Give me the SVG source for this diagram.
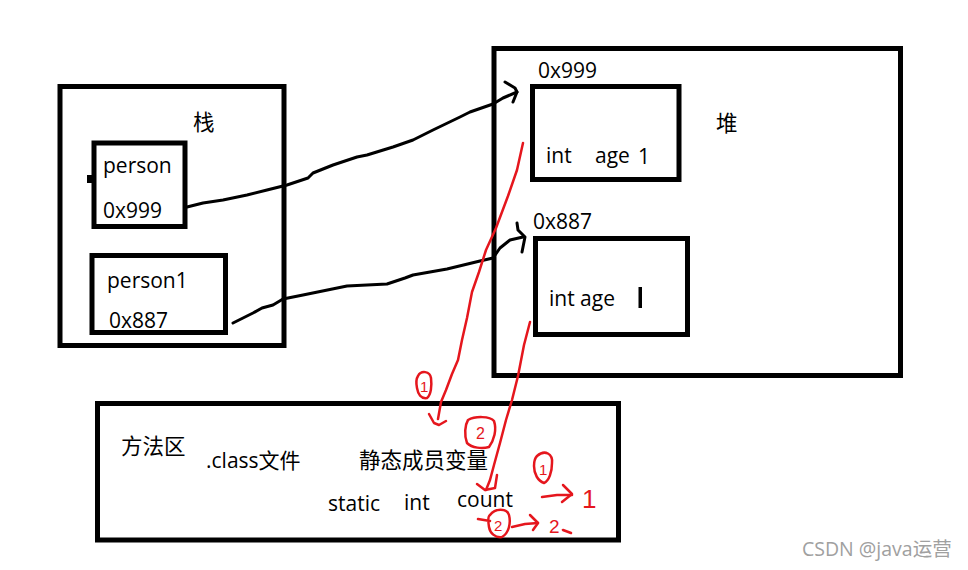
<svg xmlns="http://www.w3.org/2000/svg" width="968" height="570" viewBox="0 0 968 570">
<style>
.box{fill:none;stroke:#000;stroke-width:5}
.t{font-family:"Open Sans","Noto Sans CJK SC",sans-serif;font-size:21px;fill:#000}
.cj{font-family:"Noto Sans CJK SC",sans-serif;font-size:21.5px;fill:#000}
.ink{fill:none;stroke:#000;stroke-width:3;stroke-linejoin:round;stroke-linecap:round}
.red{fill:none;stroke:#e5161d;stroke-width:2.5;stroke-linejoin:round;stroke-linecap:round}
.rt{font-family:"Liberation Sans",sans-serif;fill:#e5161d}
.wm{font-family:"Open Sans","Noto Sans CJK SC",sans-serif;font-size:19.5px;fill:#a0a0a0}
</style>
<rect width="968" height="570" fill="#fff"/>

<g id="stack">
<rect class="box" x="60" y="86.5" width="224" height="259"/>
<text class="cj" x="193" y="130">栈</text>
</g>
<g id="person">
<rect class="box" x="94" y="143" width="91" height="83.5"/>
<rect x="87" y="175" width="5" height="8" fill="#000"/>
<text class="t" x="103" y="173">person</text>
<text class="t" x="103" y="218">0x999</text>
</g>
<g id="person1">
<rect class="box" x="92" y="255.5" width="133.5" height="77"/>
<text class="t" x="107" y="288">person1</text>
<text class="t" x="109" y="328">0x887</text>
</g>

<g id="heap">
<rect class="box" x="494" y="48.5" width="406.5" height="327"/>
<text class="cj" x="716" y="131">堆</text>
</g>
<g id="obj1">
<text class="t" x="538" y="78">0x999</text>
<rect class="box" x="532.5" y="86.5" width="146.5" height="93"/>
<text class="t" x="546" y="163">int</text>
<text class="t" x="595" y="163">age</text>
<text class="t" x="638" y="164">1</text>
</g>
<g id="obj2">
<text class="t" x="533" y="229">0x887</text>
<rect class="box" x="535.5" y="238.5" width="152" height="96"/>
<text class="t" x="549" y="306">int age</text>
<rect x="638.5" y="287" width="3.5" height="21" fill="#000"/>
</g>

<g id="method-area">
<rect class="box" x="97.5" y="403.5" width="521" height="136.5"/>
<text class="cj" x="121" y="454">方法区</text>
<text class="t" x="206" y="468">.class文件</text>
<text class="cj" x="359" y="468">静态成员变量</text>
<text class="t" x="328" y="511">static</text>
<text class="t" x="404" y="510">int</text>
<text class="t" x="457" y="507">count</text>
</g>

<g id="connectors">
<polyline class="ink" points="187,207 203,203 223,200 247,195 267,190 287,185 308,178 313,173 333,165 357,157 367,155 393,147 413,140 433,130 460,117 470,112 493,104 503,98 517,92"/>
<polyline class="ink" points="505,82 515,88 517,92 513,102"/>
<polyline class="ink" points="233,323 243,318 253,313 262,308 273,305 283,299 303,295 347,286 387,284 405,278 413,275 447,269 480,261 493,258 500,248 510,240 523,237"/>
<polyline class="ink" points="517,223 518,230 525,237 522,252"/>

<polyline class="red" points="523,143 517,170 508,196 496,228 486,250 479,272 472,292 467,318 462,340 458,360 452,374 446,390 441,402 438,419"/>
<polyline class="red" points="429,414 434,423 439,425 446,421"/>
<polyline class="red" points="530,322 524,345 518,376 512,400 506,420 500,443 494,465 490,480 486,490"/>
<polyline class="red" points="477,484 485,490 495,488 497,475"/>

<path class="red" d="M418,376 C421,370 430,371 431,378 C432,386 431,395 427,398 C421,399 418,394 417,388 C416,383 416,379 418,376 Z"/>
<text class="rt" x="420" y="392" font-size="15">1</text>

<path class="red" d="M468,420 C475,416 490,416 494,421 C497,430 494,440 489,447 C482,449 472,448 467,443 C464,435 465,425 468,420 Z"/>
<text class="rt" x="476" y="439" font-size="16">2</text>

<path class="red" d="M537,456 C545,449 553,454 552,463 C552,472 549,481 544,483 C538,481 534,474 534,466 C534,461 535,458 537,456 Z"/>
<text class="rt" x="539" y="475" font-size="15">1</text>
<polyline class="red" points="542,497 557,495 572,495"/>
<polyline class="red" points="563,485 572,494 562,502"/>
<text class="rt" x="582" y="508" font-size="26">1</text>

<path class="red" d="M478,519 L490,521 M490,515 C495,508 507,508 509,515 C511,523 509,533 502,537 C495,538 490,533 489,527 C488,521 488,516 490,515"/>
<text class="rt" x="494" y="531" font-size="15">2</text>
<polyline class="red" points="512,527 525,524 538,523"/>
<polyline class="red" points="530,515 538,523 533,530"/>
<text class="rt" x="549" y="533" font-size="19">2</text>
<polyline class="red" points="563,530 571,533"/>
</g>

<text class="wm" x="802" y="556">CSDN @java运营</text>
</svg>
